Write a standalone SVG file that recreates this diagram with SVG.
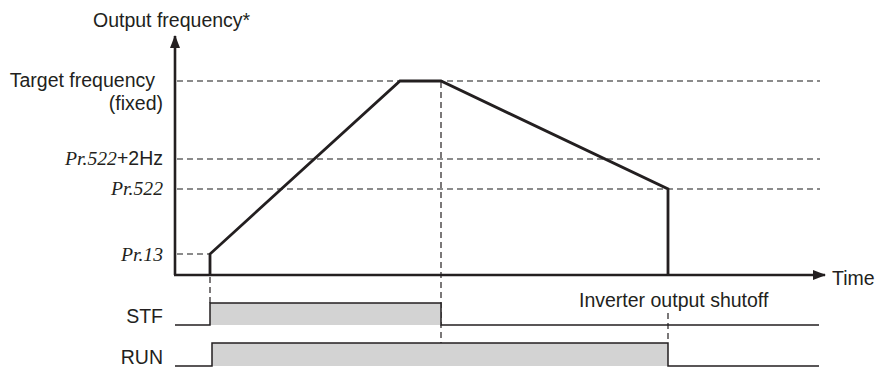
<svg xmlns="http://www.w3.org/2000/svg" width="875" height="367" viewBox="0 0 875 367">
<style>
.t{font-family:"Liberation Sans",Arial,sans-serif;font-size:19.5px;fill:#231f20}
.i{font-family:"Liberation Serif","Times New Roman",serif;font-style:italic;font-size:19.7px;fill:#231f20}
.gd{stroke:#666;stroke-width:1.4;stroke-dasharray:6 4;fill:none}
.vd{stroke:#231f20;stroke-width:1.2;stroke-dasharray:6 4;fill:none}
.ax{stroke:#231f20;stroke-width:2.6;fill:none}
.cv{stroke:#231f20;stroke-width:2.8;fill:none;stroke-linejoin:miter}
.sig{stroke:#231f20;stroke-width:1.5;fill:none}
.fill{fill:#d3d3d3;stroke:none}
</style>
<defs>
<marker id="ah" markerWidth="14" markerHeight="10" refX="12" refY="5" orient="auto" markerUnits="userSpaceOnUse">
<path d="M0,0 L13,5 L0,10 Z" fill="#231f20"/>
</marker>
</defs>
<g id="connectors">
<line class="gd" x1="177" y1="81" x2="820" y2="81"/>
<line class="gd" x1="177" y1="159" x2="820" y2="159"/>
<line class="gd" x1="177" y1="189" x2="820" y2="189"/>
<line class="gd" x1="177" y1="254" x2="210" y2="254"/>
<line class="vd" x1="210" y1="277" x2="210" y2="303"/>
<line class="vd" x1="441" y1="82" x2="441" y2="343"/>
<line class="vd" x1="668" y1="313" x2="668" y2="343"/>
</g>
<g id="axes">
<line class="ax" x1="175" y1="275" x2="175" y2="36" marker-end="url(#ah)"/>
<line class="ax" x1="174" y1="275" x2="825" y2="275" marker-end="url(#ah)"/>
</g>
<g id="curve">
<polyline class="cv" points="210,275 210,254 400,81 441,81 668,189 668,275"/>
</g>
<g id="stf">
<rect class="fill" x="210" y="303" width="231" height="22"/>
<polyline class="sig" points="175,325 210,325 210,303 441,303 441,325 819,325"/>
</g>
<g id="run">
<rect class="fill" x="212" y="343" width="456" height="23"/>
<polyline class="sig" points="175,366 212,366 212,343 668,343 668,366 819,366"/>
</g>
<g id="labels">
<text class="t" x="93" y="27">Output frequency*</text>
<text class="t" x="155" y="87" text-anchor="end">Target frequency</text>
<text class="t" x="163" y="110" text-anchor="end">(fixed)</text>
<text x="163" y="165" text-anchor="end"><tspan class="i">Pr.522</tspan><tspan class="t">+2Hz</tspan></text>
<text class="i" x="163" y="195" text-anchor="end">Pr.522</text>
<text class="i" x="163" y="261" text-anchor="end">Pr.13</text>
<text class="t" x="163" y="323" text-anchor="end">STF</text>
<text class="t" x="163" y="364" text-anchor="end">RUN</text>
<text class="t" x="832" y="285">Time</text>
<text class="t" x="579" y="307">Inverter output shutoff</text>
</g>
</svg>
